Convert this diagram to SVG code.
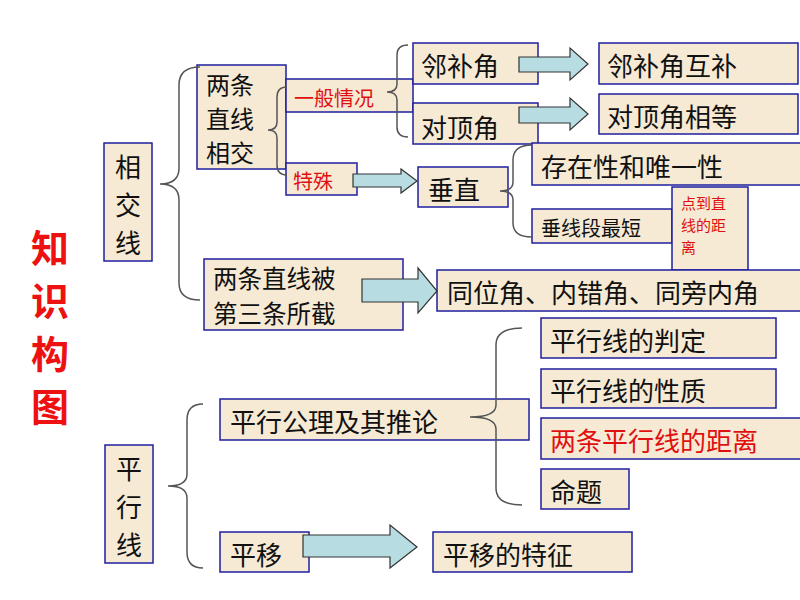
<svg xmlns="http://www.w3.org/2000/svg" width="800" height="600" viewBox="0 0 800 600">
<style>
.box{fill:#f6ead5;stroke:#1f1fa0;stroke-width:1.5}
.t{font-family:"Noto Sans CJK SC","Noto Sans",sans-serif;font-size:26px;fill:#111;dominant-baseline:central}
.s{font-size:20px}
.m{font-size:24px}
.r{fill:#e01010}
.brace{fill:none;stroke:#555;stroke-width:1.5}
.arrow{fill:#b7dde2;stroke:#333;stroke-width:1.2}
.title{font-family:"Noto Sans CJK SC","Noto Sans",sans-serif;font-size:38px;font-weight:bold;fill:#ee1111;text-anchor:middle;dominant-baseline:central}
</style>
<rect width="800" height="600" fill="#fff"/>
<text class="title" x="50" y="245">知</text>
<text class="title" x="50" y="298">识</text>
<text class="title" x="50" y="351">构</text>
<text class="title" x="50" y="404">图</text>

<g id="n-xiangjiaoxian"><rect class="box" x="104" y="143" width="48" height="118"/>
<text class="t" text-anchor="middle"><tspan x="128" y="165">相</tspan><tspan x="128" y="203">交</tspan><tspan x="128" y="241">线</tspan></text></g>
<g id="n-liangtiao"><rect class="box" x="197" y="65" width="89" height="104"/>
<text class="t m"><tspan x="206" y="83">两条</tspan><tspan x="206" y="117">直线</tspan><tspan x="206" y="151">相交</tspan></text></g>
<g id="n-yiban"><rect class="box" x="286" y="79" width="127" height="33"/>
<text class="t s r" x="294" y="97">一般情况</text></g>
<g id="n-teshu"><rect class="box" x="286" y="163" width="71" height="32"/>
<text class="t s r" x="293" y="180">特殊</text></g>
<g id="n-linbujiao"><rect class="box" x="413" y="43" width="125" height="41"/>
<text class="t" x="421" y="64">邻补角</text></g>
<g id="n-duidingjiao"><rect class="box" x="413" y="103" width="125" height="41"/>
<text class="t" x="421" y="126">对顶角</text></g>
<g id="n-linbuhubu"><rect class="box" x="599" y="43" width="199" height="41"/>
<text class="t" x="607" y="64">邻补角互补</text></g>
<g id="n-duidingxiangdeng"><rect class="box" x="599" y="94" width="199" height="40"/>
<text class="t" x="607" y="115">对顶角相等</text></g>
<g id="n-chuizhi"><rect class="box" x="418" y="167" width="90" height="40"/>
<text class="t" x="428" y="188">垂直</text></g>
<g id="n-cunzai"><rect class="box" x="532" y="143" width="270" height="42"/>
<text class="t" x="541" y="165">存在性和唯一性</text></g>
<g id="n-chuixianduan"><rect class="box" x="532" y="209" width="140" height="34"/>
<text class="t s" x="541" y="227">垂线段最短</text></g>
<g id="n-diandao"><rect class="box" x="672" y="187" width="76" height="83"/>
<text class="t r" style="font-size:15px"><tspan x="681" y="202">点到直</tspan><tspan x="681" y="224">线的距</tspan><tspan x="681" y="246">离</tspan></text></g>
<g id="n-tongwei"><rect class="box" x="437" y="270" width="365" height="41"/>
<text class="t" x="447" y="291">同位角、内错角、同旁内角</text></g>
<g id="n-jiezhi"><rect class="box" x="204" y="259" width="199" height="71"/>
<text class="t" style="font-size:24.5px"><tspan x="213" y="277">两条直线被</tspan><tspan x="213" y="312">第三条所截</tspan></text></g>

<g id="n-pingxingxian"><rect class="box" x="105" y="445" width="48" height="118"/>
<text class="t" text-anchor="middle"><tspan x="129" y="467">平</tspan><tspan x="129" y="505">行</tspan><tspan x="129" y="543">线</tspan></text></g>
<g id="n-gongli"><rect class="box" x="220" y="399" width="309" height="41"/>
<text class="t" x="230" y="420">平行公理及其推论</text></g>
<g id="n-panding"><rect class="box" x="541" y="318" width="235" height="40"/>
<text class="t" x="550" y="339">平行线的判定</text></g>
<g id="n-xingzhi"><rect class="box" x="541" y="369" width="235" height="39"/>
<text class="t" x="550" y="389">平行线的性质</text></g>
<g id="n-juli"><rect class="box" x="541" y="418" width="262" height="41"/>
<text class="t r" x="550" y="439">两条平行线的距离</text></g>
<g id="n-mingti"><rect class="box" x="541" y="469" width="88" height="40"/>
<text class="t" x="550" y="490">命题</text></g>
<g id="n-pingyi"><rect class="box" x="220" y="532" width="89" height="40"/>
<text class="t" x="230" y="553">平移</text></g>
<g id="n-pingyitezheng"><rect class="box" x="433" y="532" width="199" height="40"/>
<text class="t" x="443" y="553">平移的特征</text></g>

<g id="connectors">
<path class="brace" d="M200,67 Q179,67 179,85 L179,168 Q179,184 160,184 Q179,184 179,200 L179,283 Q179,300 200,300"/>
<path class="brace" d="M287,87 Q277,87 277,97 L277,122 Q277,130 268,130 Q277,130 277,138 L277,165 Q277,175 287,175"/>
<path class="brace" d="M408,45 Q397,45 397,55 L397,84 Q397,92 387,92 Q397,92 397,100 L397,127 Q397,137 408,137"/>
<path class="brace" d="M532,145 Q513,145 513,160 L513,182 Q513,191 500,191 Q513,191 513,200 L513,223 Q513,237 532,237"/>
<path class="brace" d="M203,404 Q187,404 187,420 L187,474 Q187,486 168,486 Q187,486 187,498 L187,552 Q187,568 203,568"/>
<path class="brace" d="M522,328 Q496,328 496,345 L496,405 Q496,417 470,417 Q496,417 496,429 L496,488 Q496,505 522,505"/>
<polygon class="arrow" points="519,57 570,57 570,48 588,64 570,80 570,72 519,72"/>
<polygon class="arrow" points="519,107 570,107 570,98 588,114 570,130 570,123 519,123"/>
<polygon class="arrow" points="353,174 401,174 401,169 417,181 401,193 401,187 353,187"/>
<polygon class="arrow" points="362,279 418,279 418,268 437,291 418,313 418,302 362,302"/>
<polygon class="arrow" points="303,535 390,535 390,525 417,547 390,568 390,557 303,557"/>
</g>
</svg>
